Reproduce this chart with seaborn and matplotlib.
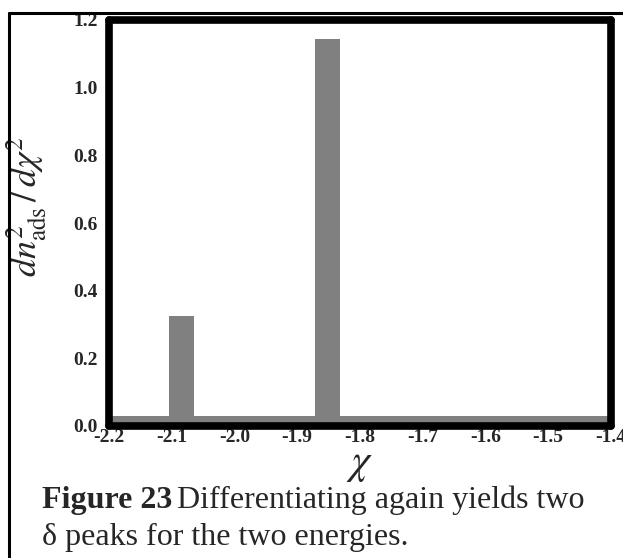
import matplotlib
matplotlib.use("Agg")
import matplotlib.pyplot as plt
from matplotlib.lines import Line2D
import numpy as np
import seaborn as sns

# Histogram of the second derivative: bin edges and heights
bin_edges = [-2.2, -2.104, -2.064, -1.872, -1.832, -1.4]
bin_heights = [0.03, 0.325, 0.03, 1.145, 0.03]
x_ticks = [-2.2, -2.1, -2.0, -1.9, -1.8, -1.7, -1.6, -1.5, -1.4]
y_ticks = [0.0, 0.2, 0.4, 0.6, 0.8, 1.0, 1.2]

sns.set_style("white")
plt.rcParams["font.family"] = ["Liberation Serif", "DejaVu Serif"]
plt.rcParams["mathtext.fontset"] = "stix"
plt.rcParams["axes.unicode_minus"] = False

fig = plt.figure(figsize=(6.23, 5.58), dpi=100)
ax = fig.add_axes([109 / 623, 1 - 426 / 558, 502 / 623, 406 / 558])

centers = [(a + b) / 2 for a, b in zip(bin_edges[:-1], bin_edges[1:])]
sns.histplot(x=centers, weights=bin_heights, bins=bin_edges, stat="count",
             color="#808080", alpha=1.0, edgecolor="none", linewidth=0, ax=ax)

ax.set_xlim(-2.2, -1.4)
ax.set_ylim(0, 1.2)
ax.set_xticks(x_ticks)
ax.set_xticklabels([f"{v:.1f}" for v in x_ticks])
ax.set_yticks(y_ticks)
ax.set_yticklabels([f"{v:.1f}" for v in y_ticks])
for lab in ax.get_xticklabels() + ax.get_yticklabels():
    lab.set_fontweight("bold")
    lab.set_fontsize(14)
ax.tick_params(axis="both", direction="in", length=4, width=2.5, color="black")
ax.tick_params(axis="x", pad=2)
ax.tick_params(axis="y", pad=8)

for sp in ax.spines.values():
    sp.set_visible(True)
    sp.set_color("black")
    sp.set_linewidth(5.5)
    sp.set_capstyle("round")

ax.set_xlabel(r"$\chi$", fontsize=30, labelpad=0)
ax.xaxis.set_label_coords(0.5, -0.048)
ax.set_ylabel(r"$dn^2_{\mathrm{ads}}\,/\,d\chi^2$", fontsize=26)
ax.yaxis.set_label_coords(-0.12, 0.54)

# Frame around the figure panel
fig.add_artist(Line2D([9 / 623, 9 / 623], [0, 1 - 13 / 558], transform=fig.transFigure,
                      color="black", linewidth=2.2))
fig.add_artist(Line2D([9 / 623, 1], [1 - 13 / 558, 1 - 13 / 558], transform=fig.transFigure,
                      color="black", linewidth=2.2))

# Caption
cap_size = 23
t1 = fig.text(42 / 623, 1 - 508 / 558, "Figure 23", fontsize=cap_size,
              fontweight="bold", va="baseline", ha="left")
fig.canvas.draw()
bb = t1.get_window_extent(renderer=fig.canvas.get_renderer())
fig.text(bb.x1 / fig.bbox.width + 5 / 623, 1 - 508 / 558,
         "Differentiating again yields two", fontsize=cap_size,
         va="baseline", ha="left")
fig.text(42 / 623, 1 - 545 / 558, "\u03b4 peaks for the two energies.",
         fontsize=cap_size, va="baseline", ha="left")

fig.savefig("out.png", dpi=100)
